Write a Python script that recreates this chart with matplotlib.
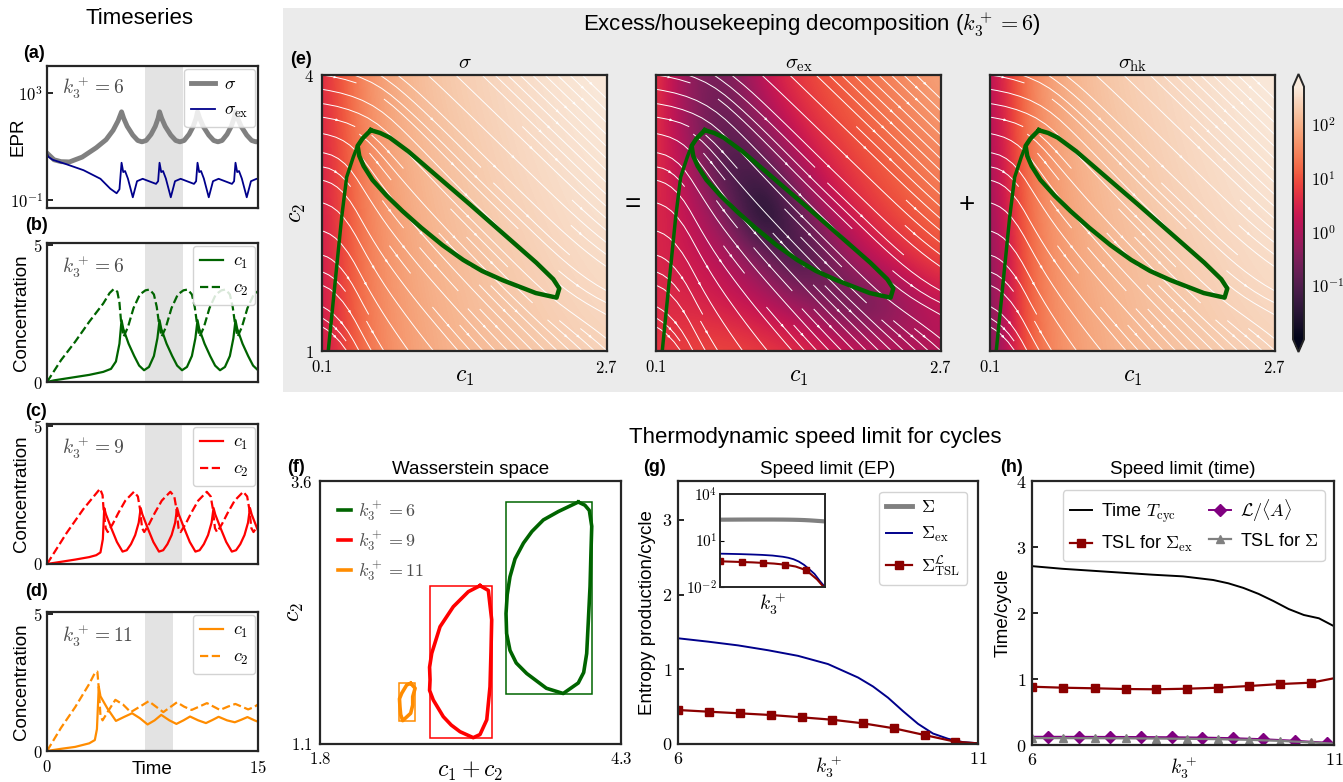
import numpy as np
import matplotlib
matplotlib.use("Agg")
import matplotlib.pyplot as plt
import seaborn as sns
from matplotlib.colors import Normalize, LogNorm
from matplotlib.patches import Rectangle
from matplotlib.cm import ScalarMappable

plt.rcParams['font.family'] = ['Liberation Sans', 'DejaVu Sans']
plt.rcParams['mathtext.fontset'] = 'cm'
plt.rcParams['axes.linewidth'] = 1.6
plt.rcParams['axes.edgecolor'] = '#262626'

# ---------------- time series (k3+ = 6, 9, 11) ----------------
epr_tot_t = [0, 0.5, 1.0, 1.6, 2.5, 3.5, 4.2, 4.7, 5.05, 5.3,
             5.45, 5.7, 6.1, 6.45, 6.75, 7.05, 7.4, 7.7, 7.9, 8.0,
             8.15, 8.4, 8.8, 9.15, 9.45, 9.75, 10.1, 10.4, 10.6, 10.7,
             10.85, 11.1, 11.5, 11.85, 12.15, 12.45, 12.8, 13.1, 13.3, 13.4,
             13.55, 13.8, 14.2, 14.55, 14.85, 15.0]
epr_tot_log = [0.75, 0.5, 0.43, 0.42, 0.6, 0.95, 1.25, 1.6, 1.95, 2.29,
               2.05, 1.75, 1.42, 1.22, 1.17, 1.22, 1.45, 1.75, 2.05, 2.29,
               2.05, 1.75, 1.42, 1.22, 1.17, 1.22, 1.45, 1.75, 2.05, 2.29,
               2.05, 1.75, 1.42, 1.22, 1.17, 1.22, 1.45, 1.75, 2.05, 2.29,
               2.05, 1.75, 1.42, 1.22, 1.17, 1.18]
epr_ex_t = [0, 0.08, 0.4, 1.4, 2.6, 3.8, 4.5, 4.95, 5.15, 5.3,
            5.42, 5.55, 5.75, 6.1, 6.4, 6.8, 7.25, 7.75, 7.9, 8.0,
            8.12, 8.25, 8.45, 8.8, 9.1, 9.5, 9.95, 10.45, 10.6, 10.7,
            10.82, 10.95, 11.15, 11.5, 11.8, 12.2, 12.65, 13.15, 13.3, 13.4,
            13.52, 13.65, 13.85, 14.2, 14.5, 14.9, 15.0]
epr_ex_log = [0.75, 0.62, 0.5, 0.33, 0.11, -0.21, -0.58, -0.75, -0.6, 0.39,
              0.04, 0.08, -0.2, -0.9, -0.3, -0.21, -0.3, -0.4, -0.3, 0.39,
              0.04, 0.08, -0.2, -0.9, -0.3, -0.21, -0.3, -0.4, -0.3, 0.39,
              0.04, 0.08, -0.2, -0.9, -0.3, -0.21, -0.3, -0.4, -0.3, 0.39,
              0.04, 0.08, -0.2, -0.9, -0.3, -0.21, -0.22]

k6_c1_t = [0, 0.5, 1.0, 2.0, 3.0, 4.0, 4.55, 4.9, 5.15, 5.3,
           5.42, 5.8, 6.2, 6.55, 6.9, 7.25, 7.6, 7.85, 8.0,
           8.12, 8.5, 8.9, 9.25, 9.6, 9.95, 10.3, 10.55, 10.7,
           10.82, 11.2, 11.6, 11.95, 12.3, 12.65, 13.0, 13.25, 13.4,
           13.52, 13.9, 14.3, 14.65, 15.0]
k6_c1 = [0, 0.06, 0.1, 0.18, 0.26, 0.37, 0.48, 0.75, 1.4, 2.26,
         1.95, 1.4, 0.95, 0.6, 0.43, 0.55, 0.95, 1.6, 2.26,
         1.95, 1.4, 0.95, 0.6, 0.43, 0.55, 0.95, 1.6, 2.26,
         1.95, 1.4, 0.95, 0.6, 0.43, 0.55, 0.95, 1.6, 2.26,
         1.95, 1.4, 0.95, 0.6, 0.43]
k6_c2_t = [0, 1, 2, 3, 4, 4.45, 4.75, 5.0, 5.15, 5.3,
           5.45, 5.75, 6.15, 6.6, 7.0, 7.3, 7.6, 7.8, 8.0,
           8.15, 8.45, 8.85, 9.3, 9.7, 10.0, 10.3, 10.5, 10.7,
           10.85, 11.15, 11.55, 12.0, 12.4, 12.7, 13.0, 13.2, 13.4,
           13.55, 13.85, 14.25, 14.7, 15.0]
k6_c2 = [0, 0.8, 1.47, 2.2, 2.87, 3.25, 3.4, 3.3, 2.9, 2.0,
         1.66, 2.0, 2.7, 3.2, 3.35, 3.38, 3.2, 2.75, 2.0,
         1.66, 2.0, 2.7, 3.2, 3.35, 3.38, 3.2, 2.75, 2.0,
         1.66, 2.0, 2.7, 3.2, 3.35, 3.38, 3.2, 2.75, 2.0,
         1.66, 2.0, 2.7, 3.2, 3.32]

k9_c1_t = [0, 1, 2, 3, 3.5, 3.8, 3.97, 4.07,
           4.19, 4.57, 4.97, 5.37, 5.67, 5.97, 6.27, 6.52, 6.66,
           6.78, 7.16, 7.56, 7.96, 8.26, 8.56, 8.86, 9.11, 9.25,
           9.37, 9.75, 10.15, 10.55, 10.85, 11.15, 11.45, 11.7, 11.84,
           11.96, 12.34, 12.74, 13.14, 13.44, 13.74, 14.04, 14.29, 14.43,
           14.55, 14.93, 15.0]
k9_c1 = [0, 0.08, 0.16, 0.25, 0.32, 0.42, 0.9, 2.03,
         1.8, 1.3, 0.8, 0.45, 0.5, 0.72, 1.05, 1.5, 2.03,
         1.8, 1.3, 0.8, 0.45, 0.5, 0.72, 1.05, 1.5, 2.03,
         1.8, 1.3, 0.8, 0.45, 0.5, 0.72, 1.05, 1.5, 2.03,
         1.8, 1.3, 0.8, 0.45, 0.5, 0.72, 1.05, 1.5, 2.03,
         1.8, 1.3, 1.22]
k9_c2_t = [0, 1.4, 2.58, 3.4, 3.77, 3.95, 4.02, 4.17, 4.32,
           4.67, 5.07, 5.57, 6.18, 6.46, 6.61, 6.76, 6.91,
           7.26, 7.66, 8.16, 8.77, 9.05, 9.2, 9.35, 9.5,
           9.85, 10.25, 10.75, 11.36, 11.64, 11.79, 11.94, 12.09,
           12.44, 12.84, 13.34, 13.95, 14.23, 14.38, 14.53, 14.68, 15.0]
k9_c2 = [0, 1.13, 1.99, 2.5, 2.73, 2.5, 2.0, 1.3, 1.16,
         1.45, 1.85, 2.3, 2.62, 2.45, 2.0, 1.3, 1.16,
         1.45, 1.85, 2.3, 2.62, 2.45, 2.0, 1.3, 1.16,
         1.45, 1.85, 2.3, 2.62, 2.45, 2.0, 1.3, 1.16,
         1.45, 1.85, 2.3, 2.62, 2.45, 2.0, 1.3, 1.16, 1.4]

k11_c1_t = [0, 1, 2, 3, 3.4, 3.55, 3.68, 3.8, 4.3, 4.9,
            5.5, 6.05, 6.6, 7.15, 7.65, 8.12, 8.7, 9.2, 9.7, 10.17,
            10.75, 11.3, 11.75, 12.2, 12.8, 13.35, 13.8, 14.25, 14.75, 15.0]
k11_c1 = [0, 0.08, 0.15, 0.28, 0.4, 0.8, 2.35, 2.0, 1.55, 1.1,
          1.25, 1.38, 1.2, 0.97, 1.12, 1.32, 1.12, 0.99, 1.12, 1.26,
          1.12, 1.02, 1.13, 1.25, 1.12, 1.05, 1.14, 1.24, 1.12, 1.07]
k11_c2_t = [0, 1, 2, 3, 3.4, 3.58, 3.68, 3.8, 3.95, 4.4,
            4.86, 5.4, 5.95, 6.6, 7.23, 7.75, 8.27, 8.75, 9.24, 9.75,
            10.28, 10.85, 11.37, 11.85, 12.3, 12.85, 13.39, 13.85, 14.3, 14.7, 15.0]
k11_c2 = [0, 0.85, 1.6, 2.45, 2.85, 2.9, 2.3, 1.3, 1.12, 1.5,
          1.87, 1.7, 1.42, 1.62, 1.82, 1.62, 1.42, 1.6, 1.78, 1.62,
          1.5, 1.63, 1.75, 1.62, 1.5, 1.62, 1.72, 1.62, 1.52, 1.6, 1.7]

span_k6 = (7.0, 9.7)
span_k9 = (7.0, 9.57)
span_k11 = (7.0, 8.95)

# ---------------- limit cycles in (c1, c2) ----------------
cyc6_c1 = [0.545, 0.63, 0.717, 0.887, 1.15, 1.443, 1.73, 2.055, 2.21, 2.265, 2.24,
           2.05, 1.747, 1.56, 1.388, 1.2, 1.005, 0.835, 0.688, 0.56, 0.48, 0.44,
           0.425, 0.47, 0.545]
cyc6_c2 = [3.40, 3.37, 3.32, 3.17, 2.90, 2.60, 2.30, 1.96, 1.78, 1.68, 1.58,
           1.63, 1.77, 1.87, 1.99, 2.15, 2.34, 2.52, 2.69, 2.86, 3.01, 3.12,
           3.23, 3.31, 3.40]
cyc9_c1 = [0.524, 0.638, 0.946, 1.25, 1.567, 1.855, 1.939, 1.913, 1.746, 1.61,
           1.464, 1.223, 1.1, 1.004, 0.88, 0.766, 0.582, 0.502, 0.484, 0.524]
cyc9_c2 = [2.605, 2.56, 2.28, 1.97, 1.645, 1.33, 1.19, 1.16, 1.217, 1.28,
           1.36, 1.518, 1.61, 1.71, 1.83, 1.962, 2.215, 2.405, 2.548, 2.605]
cyc11_c1 = [0.876, 0.96, 1.02, 1.1, 1.161, 1.165, 1.09, 1.009, 0.93, 0.896, 0.859, 0.876]
cyc11_c2 = [1.677, 1.63, 1.55, 1.47, 1.392, 1.322, 1.38, 1.455, 1.53, 1.583, 1.661, 1.677]
# transient of the k3+ = 6 trajectory towards the cycle
tr6_c1 = [0.157, 0.219, 0.28, 0.325, 0.386, 0.425]
tr6_c2 = [1.0, 1.74, 2.46, 2.89, 3.11, 3.23]

# ---------------- EPR fields on the (c1, c2) plane, log10 ----------------
grid_c1 = [0.1, 0.425, 0.75, 1.075, 1.4, 1.725, 2.05, 2.375, 2.7]
grid_c2 = [4.0, 3.5, 3.0, 2.5, 2.0, 1.5, 1.0]   # top row first
sigma_log = [
    [0.5, 1.5, 1.95, 2.2, 2.35, 2.45, 2.55, 2.62, 2.68],
    [0.45, 1.45, 1.9, 2.15, 2.3, 2.42, 2.52, 2.6, 2.65],
    [0.4, 1.4, 1.85, 2.1, 2.25, 2.38, 2.48, 2.56, 2.62],
    [0.35, 1.35, 1.8, 2.05, 2.2, 2.33, 2.43, 2.52, 2.58],
    [0.3, 1.3, 1.75, 2.0, 2.15, 2.27, 2.37, 2.46, 2.53],
    [0.3, 1.25, 1.7, 1.95, 2.1, 2.22, 2.32, 2.4, 2.47],
    [0.25, 1.2, 1.65, 1.9, 2.05, 2.16, 2.25, 2.33, 2.4]]
sigma_ex_log = [
    [0.9, -0.5, -0.6, 0.3, 0.8, 1.1, 1.35, 1.6, 1.85],
    [0.8, -0.4, -0.9, -0.2, 0.5, 0.9, 1.2, 1.45, 1.7],
    [0.7, 0.0, -1.3, -1.0, 0.0, 0.6, 0.95, 1.25, 1.5],
    [0.6, 0.2, -0.5, -2.1, -0.8, 0.2, 0.7, 1.0, 1.3],
    [0.55, 0.35, 0.1, -0.5, -1.4, -0.6, 0.2, 0.6, 0.95],
    [0.6, 0.55, 0.4, 0.2, -0.1, -0.7, -0.9, -0.3, 0.2],
    [0.7, 0.9, 0.95, 0.85, 0.7, 0.5, 0.3, 0.1, 0.1]]
sigma_hk_log = [
    [0.0, 1.45, 1.95, 2.2, 2.35, 2.45, 2.55, 2.62, 2.68],
    [-0.1, 1.4, 1.9, 2.15, 2.3, 2.42, 2.52, 2.6, 2.65],
    [-0.2, 1.35, 1.85, 2.1, 2.25, 2.38, 2.48, 2.56, 2.62],
    [-0.35, 1.3, 1.8, 2.05, 2.2, 2.33, 2.43, 2.52, 2.58],
    [-0.5, 1.2, 1.75, 2.0, 2.15, 2.27, 2.37, 2.46, 2.53],
    [-0.6, 1.15, 1.7, 1.95, 2.1, 2.22, 2.32, 2.4, 2.47],
    [-0.7, 1.1, 1.65, 1.9, 2.05, 2.16, 2.25, 2.33, 2.4]]
# slope dc2/dc1 of the flow lines (same grid)
flow_slope = [
    [-0.15, -0.4, -0.9, -1.1, -1.15, -1.15, -1.15, -1.15, -1.15],
    [-0.15, -0.5, -1.1, -1.15, -1.15, -1.15, -1.15, -1.15, -1.15],
    [-0.1, -1.8, -1.4, -1.25, -1.2, -1.15, -1.15, -1.15, -1.15],
    [-0.2, -2.2, -1.5, -1.3, -1.2, -1.15, -1.15, -1.1, -1.05],
    [-0.3, -2.3, -1.6, -1.35, -1.25, -1.2, -1.15, -1.0, -0.85],
    [-0.4, -2.3, -1.7, -1.4, -1.3, -1.2, -1.1, -0.8, -0.55],
    [-0.6, -2.3, -1.8, -1.5, -1.35, -1.25, -1.2, -1.15, -1.1]]

# ---------------- speed limits vs k3+ ----------------
k_line = [6.0, 6.5, 7.0, 7.5, 8.0, 8.5, 9.0, 9.25, 9.5, 9.75, 10.0, 10.25, 10.5, 10.75, 11.0]
Sigma_ex = [1.415, 1.37, 1.32, 1.255, 1.18, 1.07, 0.89, 0.77, 0.62, 0.44, 0.27, 0.14, 0.07, 0.025, 0.01]
Sigma_tot = [220, 222, 224, 225, 225, 225, 223, 221, 218, 214, 208, 200, 190, 180, 170]
T_cyc = [2.71, 2.67, 2.64, 2.61, 2.58, 2.555, 2.5, 2.45, 2.38, 2.29, 2.18, 2.06, 1.97, 1.92, 1.8]
k_mark = [6.0, 6.52, 7.04, 7.55, 8.06, 8.57, 9.08, 9.6, 10.11, 10.62, 11.0]
Sigma_tsl = [0.455, 0.432, 0.41, 0.388, 0.357, 0.325, 0.277, 0.21, 0.12, 0.031, 0.008]
tsl_time_ex = [0.883, 0.868, 0.859, 0.848, 0.844, 0.853, 0.868, 0.894, 0.924, 0.944, 1.011]
tsl_time_tot = [0.105, 0.104, 0.103, 0.101, 0.098, 0.094, 0.088, 0.078, 0.062, 0.04, 0.02]
k_dia = [6.0, 6.27, 6.78, 7.29, 7.8, 8.31, 8.82, 9.32, 9.83, 10.35, 10.88, 11.0]
length_over_A = [0.125, 0.125, 0.124, 0.123, 0.121, 0.118, 0.113, 0.104, 0.088, 0.065, 0.035, 0.03]

GREEN = '#006400'
RED = '#ff0000'
ORANGE = '#ff8c00'
NAVY = '#00008b'
GRAY = '#808080'
DARKRED = '#8b0000'
PURPLE = '#800080'
KTXT = '#4d4d4d'
rocket = sns.color_palette("rocket", as_cmap=True)

W, H = 1343, 782
fig = plt.figure(figsize=(W / 100, H / 100), dpi=100)


def px_axes(x0, y0, x1, y1):
    return fig.add_axes([x0 / W, 1 - y1 / H, (x1 - x0) / W, (y1 - y0) / H])


fig.patches.append(Rectangle((283 / W, 1 - 392 / H), 1 - 283 / W, 384 / H,
                             transform=fig.transFigure, facecolor='#ebebeb',
                             edgecolor='none', zorder=-5))

legend_kw = dict(fontsize=13, fancybox=True, framealpha=0.85, edgecolor='#cccccc')

# ---- (a) EPR ----
ax = px_axes(47, 66, 258, 208)
ax.axvspan(*span_k6, color='#e3e3e3', lw=0)
ax.plot(epr_tot_t, 10 ** np.array(epr_tot_log), color=GRAY, lw=3.5, label=r'$\sigma$')
ax.plot(epr_ex_t, 10 ** np.array(epr_ex_log), color=NAVY, lw=1.3, label=r'$\sigma_{\rm ex}$')
ax.set_yscale('log')
ax.set_ylim(10 ** -1.3, 1e4)
ax.set_xlim(0, 15)
ax.set_yticks([1e-1, 1e3], [r'$10^{-1}$', r'$10^{3}$'])
ax.minorticks_off()
ax.set_xticks([])
ax.tick_params(axis='y', direction='in', length=4, width=1.2, labelsize=12, pad=3)
ax.set_ylabel('EPR', fontsize=13.5)
ax.yaxis.set_label_coords(-0.095, 0.5)
ax.text(0.07, 0.845, r'$k_3^+ = 6$', transform=ax.transAxes, fontsize=14, color=KTXT, va='center')
ax.legend(loc='upper right', borderaxespad=0.15, handlelength=1.3, handletextpad=0.5, **legend_kw)

# ---- (b)-(d) concentrations ----
conc_panels = [
    ((243, 382), k6_c1_t, k6_c1, k6_c2_t, k6_c2, GREEN, span_k6, 6),
    ((424, 564), k9_c1_t, k9_c1, k9_c2_t, k9_c2, RED, span_k9, 9),
    ((612, 751), k11_c1_t, k11_c1, k11_c2_t, k11_c2, ORANGE, span_k11, 11),
]
for i, ((y0, y1), t1, v1, t2, v2, col, span, kval) in enumerate(conc_panels):
    ax = px_axes(47, y0, 258, y1)
    ax.axvspan(*span, color='#e3e3e3', lw=0)
    ax.plot(t1, v1, color=col, lw=1.6, label=r'$c_1$')
    ax.plot(t2, v2, color=col, lw=1.6, ls='--', label=r'$c_2$')
    ax.set_xlim(0, 15)
    ax.set_ylim(0, 5.08)
    ax.set_yticks([0, 5], [r'$0$', r'$5$'])
    ax.tick_params(axis='y', direction='in', length=4, width=1.2, labelsize=12, pad=3)
    if i == 2:
        ax.set_xticks([0, 15], [r'$0$', r'$15$'])
        ax.tick_params(axis='x', length=0, labelsize=12, pad=6)
        ax.set_xlabel('Time', fontsize=13.5)
        ax.xaxis.set_label_coords(0.5, -0.075)
    else:
        ax.set_xticks([])
    ax.set_ylabel('Concentration', fontsize=13.5)
    ax.yaxis.set_label_coords(-0.08, 0.5)
    ax.text(0.07, 0.83, r'$k_3^+ = %d$' % kval, transform=ax.transAxes, fontsize=14,
            color=KTXT, va='center')
    ax.legend(loc='upper right', borderaxespad=0.15, handlelength=1.3, handletextpad=0.5,
              **legend_kw)

# ---- (e) EPR decomposition maps ----
dc1 = grid_c1[1] - grid_c1[0]
dc2 = grid_c2[0] - grid_c2[1]
extent = [grid_c1[0] - dc1 / 2, grid_c1[-1] + dc1 / 2, grid_c2[-1] - dc2 / 2, grid_c2[0] + dc2 / 2]
U = np.ones((len(grid_c2), len(grid_c1)))
V = np.array(flow_slope)[::-1]
field_norm = Normalize(-2, np.log10(500))

panel_x = [(322, 607), (656, 941), (990, 1275)]
fields = [(sigma_log, r'$\sigma$'), (sigma_ex_log, r'$\sigma_{\rm ex}$'), (sigma_hk_log, r'$\sigma_{\rm hk}$')]
for (x0, x1), (fld, title) in zip(panel_x, fields):
    ax = px_axes(x0, 75, x1, 351)
    ax.imshow(np.array(fld), origin='upper', extent=extent, cmap=rocket, norm=field_norm,
              interpolation='bicubic', aspect='auto')
    ax.streamplot(np.array(grid_c1), np.array(grid_c2[::-1]), U, V, color='white',
                  linewidth=0.7, density=0.8, arrowsize=0.3)
    ax.plot(tr6_c1, tr6_c2, color=GREEN, lw=2.5, solid_capstyle='round')
    ax.plot(cyc6_c1, cyc6_c2, color=GREEN, lw=3.2, solid_joinstyle='round')
    ax.set_xlim(0.1, 2.7)
    ax.set_ylim(1, 4)
    ax.set_xticks([0.1, 2.7], [r'$0.1$', r'$2.7$'])
    ax.tick_params(length=0, labelsize=12, pad=6)
    ax.set_xlabel(r'$c_1$', fontsize=17)
    ax.xaxis.set_label_coords(0.5, -0.055)
    if x0 == 322:
        ax.set_yticks([1, 4], [r'$1$', r'$4$'])
        ax.set_ylabel(r'$c_2$', fontsize=17)
        ax.yaxis.set_label_coords(-0.05, 0.5)
    else:
        ax.set_yticks([])
    ax.set_title(title, fontsize=15, pad=5)

cax = px_axes(1293, 74, 1304, 352)
sm = ScalarMappable(norm=LogNorm(1e-2, 500), cmap=rocket)
cb = fig.colorbar(sm, cax=cax, extend='both')
cb.set_ticks([0.1, 1, 10, 100], labels=[r'$10^{-1}$', r'$10^{0}$', r'$10^{1}$', r'$10^{2}$'])
cb.ax.minorticks_off()
cb.ax.tick_params(labelsize=12, length=0, pad=5)
cb.outline.set_linewidth(1.4)

fig.text(633 / W, 1 - 205 / H, '=', fontsize=20, ha='center', va='center')
fig.text(967 / W, 1 - 205 / H, '+', fontsize=20, ha='center', va='center')

# ---- (f) Wasserstein space ----
ax = px_axes(320, 481, 621, 744)
for c1s, c2s, col, kval in [(cyc6_c1, cyc6_c2, GREEN, 6), (cyc9_c1, cyc9_c2, RED, 9),
                            (cyc11_c1, cyc11_c2, ORANGE, 11)]:
    xs = np.array(c1s) + np.array(c2s)
    ys = np.array(c2s)
    ax.plot(xs, ys, color=col, lw=2.6, label=r'$k_3^+ = %d$' % kval, solid_joinstyle='round')
    ax.add_patch(Rectangle((xs.min(), ys.min()), xs.max() - xs.min(), ys.max() - ys.min(),
                           fill=False, edgecolor=col, lw=1.1))
ax.set_xlim(1.8, 4.3)
ax.set_ylim(1.1, 3.6)
ax.set_xticks([1.8, 4.3], [r'$1.8$', r'$4.3$'])
ax.set_yticks([1.1, 3.6], [r'$1.1$', r'$3.6$'])
ax.tick_params(length=0, labelsize=12, pad=5)
ax.set_xlabel(r'$c_1 + c_2$', fontsize=17)
ax.xaxis.set_label_coords(0.5, -0.06)
ax.set_ylabel(r'$c_2$', fontsize=17)
ax.yaxis.set_label_coords(-0.045, 0.5)
ax.set_title('Wasserstein space', fontsize=13.5, pad=5)
ax.legend(loc='upper left', frameon=False, fontsize=13, handlelength=0.7,
          handletextpad=0.4, labelcolor=KTXT, borderaxespad=0.6, labelspacing=0.35)

# ---- (g) speed limit (EP) ----
ax = px_axes(678, 481, 978, 744)
ax.plot([], [], color=GRAY, lw=3.5, label=r'$\Sigma$')
ax.plot(k_line, Sigma_ex, color=NAVY, lw=1.4, label=r'$\Sigma_{\rm ex}$')
ax.plot(k_mark, Sigma_tsl, color=DARKRED, lw=1.6, marker='s', ms=5.5,
        markevery=list(range(10)), label=r'$\Sigma^{\mathcal{L}}_{\rm TSL}$')
ax.set_xlim(6, 11)
ax.set_ylim(0, 3.52)
ax.set_xticks([6, 11], [r'$6$', r'$11$'])
ax.set_yticks([0, 1, 2, 3], [r'$0$', r'$1$', r'$2$', r'$3$'])
ax.tick_params(axis='y', direction='in', length=4, width=1.2, labelsize=13, pad=4)
ax.tick_params(axis='x', length=0, labelsize=13, pad=5)
ax.set_xlabel(r'$k_3^+$', fontsize=14)
ax.xaxis.set_label_coords(0.5, -0.035)
ax.set_ylabel('Entropy production/cycle', fontsize=13.5)
ax.yaxis.set_label_coords(-0.075, 0.5)
ax.set_title('Speed limit (EP)', fontsize=13.5, pad=5)
ax.legend(loc='upper right', borderaxespad=0.6, handlelength=1.4, handletextpad=0.5, **legend_kw)

ins = px_axes(720, 494, 825, 587)
ins.plot(k_line, Sigma_tot, color=GRAY, lw=3)
ins.plot(k_line, Sigma_ex, color=NAVY, lw=1.3)
ins.plot(k_mark, Sigma_tsl, color=DARKRED, lw=1.5, marker='s', ms=4.5, markevery=[0, 2, 4, 6, 8])
ins.set_yscale('log')
ins.set_xlim(6, 11)
ins.set_ylim(1e-2, 1e4)
ins.set_yticks([1e-2, 1e1, 1e4], [r'$10^{-2}$', r'$10^{1}$', r'$10^{4}$'])
ins.minorticks_off()
ins.set_xticks([])
ins.tick_params(axis='y', direction='in', length=3, labelsize=11, pad=2)
ins.set_xlabel(r'$k_3^+$', fontsize=14, labelpad=2)
for s in ins.spines.values():
    s.set_linewidth(1.4)

# ---- (h) speed limit (time) ----
ax = px_axes(1032, 481, 1334, 745)
h1, = ax.plot(k_line, T_cyc, color='black', lw=1.4, label=r'Time $T_{\rm cyc}$')
h2, = ax.plot(k_mark, tsl_time_ex, color=DARKRED, lw=1.6, marker='s', ms=6,
              markevery=list(range(10)), label=r'TSL for $\Sigma_{\rm ex}$')
h3, = ax.plot(k_dia, length_over_A, color=PURPLE, lw=1.4, marker='D', ms=6.5,
              markevery=list(range(1, 11)), label=r'$\mathcal{L}/\langle A\rangle$')
h4, = ax.plot(k_mark, tsl_time_tot, color=GRAY, lw=1.6, marker='^', ms=6,
              markevery=list(range(10)), label=r'TSL for $\Sigma$')
ax.set_xlim(6, 11)
ax.set_ylim(0, 4)
ax.set_xticks([6, 11], [r'$6$', r'$11$'])
ax.set_yticks([0, 1, 2, 3, 4], [r'$0$', r'$1$', r'$2$', r'$3$', r'$4$'])
ax.tick_params(axis='y', direction='in', length=4, width=1.2, labelsize=13, pad=4)
ax.tick_params(axis='x', length=0, labelsize=13, pad=5)
ax.set_xlabel(r'$k_3^+$', fontsize=14)
ax.xaxis.set_label_coords(0.5, -0.035)
ax.set_ylabel('Time/cycle', fontsize=13.5)
ax.yaxis.set_label_coords(-0.066, 0.5)
ax.set_title('Speed limit (time)', fontsize=13.5, pad=5)
ax.legend(handles=[h1, h2, h3, h4], ncol=2, loc='upper right', borderaxespad=0.5,
          handlelength=1.2, handletextpad=0.5, columnspacing=0.9, **legend_kw)

# ---- headings and panel letters ----
fig.text(140 / W, 1 - 18 / H, 'Timeseries', fontsize=16, ha='center', va='center')
fig.text(812 / W, 1 - 25 / H, r'Excess/housekeeping decomposition ($k_3^+ = 6$)',
         fontsize=16, ha='center', va='center')
fig.text(815 / W, 1 - 438 / H, 'Thermodynamic speed limit for cycles',
         fontsize=16, ha='center', va='center')
for lab, x, y in [('(a)', 23, 53), ('(b)', 25, 226), ('(c)', 25, 411), ('(d)', 25, 592),
                  ('(e)', 290, 60), ('(f)', 287, 467), ('(g)', 643, 467), ('(h)', 1000, 467)]:
    fig.text(x / W, 1 - y / H, lab, fontsize=13, fontweight='bold', ha='left', va='center')

fig.savefig('out.png', dpi=100)
